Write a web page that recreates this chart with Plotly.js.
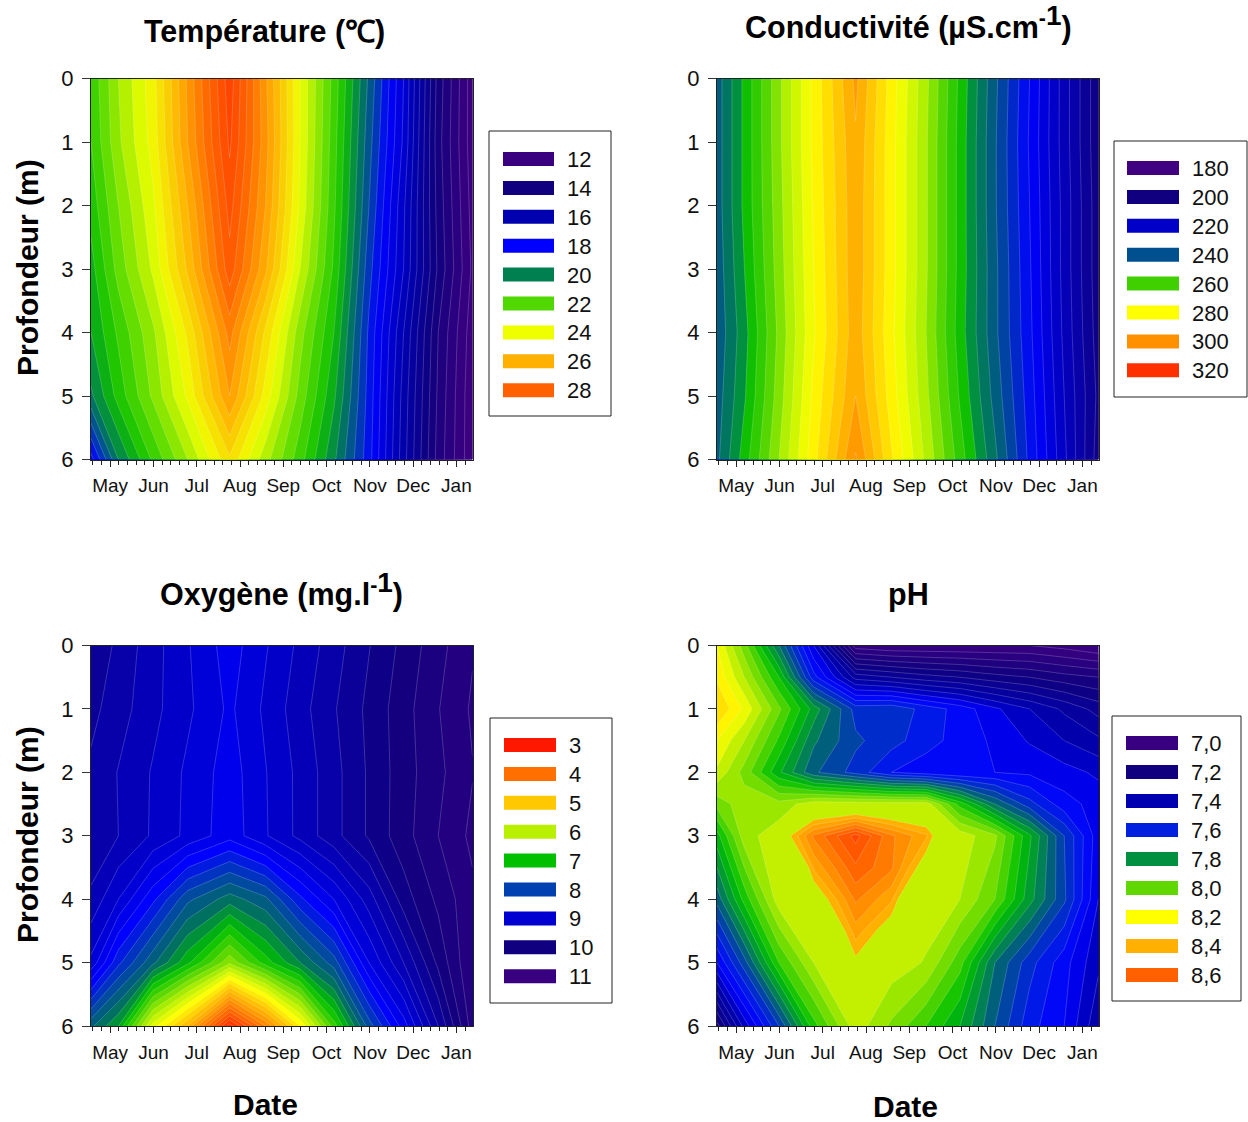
<!DOCTYPE html>
<html><head><meta charset="utf-8">
<script src="https://cdn.plot.ly/plotly-3.0.1.min.js"></script>
<style>html,body{margin:0;padding:0;background:#fff}#c{width:1248px;height:1122px}</style>
</head><body><div id="c"></div>
<script>
const monthLabels=['May','Jun','Jul','Aug','Sep','Oct','Nov','Dec','Jan'];
const monthPos=[1,2,3,4,5,6,7,8,9];
const dates=[0.557,1.19,1.99,2.79,3.76,4.59,5.39,6.17,6.98,7.78,8.58,9.372];
const depths=[0,1,2,3,4,5,6];
const phDepths=[0,0.5,1,1.5,2,2.5,3,4,5,6];
const coreDepths=[2.5,3,3.5,4,4.5,5];

const temperature=[
[21.6,23,24.3,26.6,29.3,26.6,24,21.8,19.4,17,13.8,11.7],
[21.5,22.9,24.2,26.5,29.1,26.7,24,21.7,19.2,16.9,13.7,11.7],
[21.2,22.5,23.9,26,28.7,26.5,23.9,21.6,19,16.6,13.8,11.8],
[20.8,22.2,23.6,25.6,28.3,26.1,23.5,21.4,18.7,16.5,13.9,11.9],
[20.5,21.6,22.9,24.6,27.2,24.9,22.7,21,18.4,16,13.5,11.7],
[19.9,21.2,22.6,24.1,26.5,24.3,22.3,20.6,18.3,15.8,13.4,11.6],
[17.8,20,21.6,23,24.9,23.2,21.7,20.1,18.2,15.7,13.3,11.6]];
const conductivity=[
[242,253,267,281,297,282,269,255,241,228,214,201],
[242,253,267,281,295.5,281.5,268.5,254.5,240.5,227.5,214,201],
[242,253,266.5,280.5,295,281.5,268.5,254.5,240.5,228,214.5,201.5],
[241.5,252,266,280,295,281.5,268.5,254.5,241,228.5,214.5,201.5],
[241,250.5,265,279.5,294.5,281,268,254,241,229,215,202],
[242,251.5,266,281,296,282,269,255.5,242.5,230,216,203],
[243,254,268,282.5,300.5,284.5,271,258,245,231,217,202]];
const oxygen=[
[9.77,9.55,9.28,9.02,8.7,8.98,9.25,9.51,9.79,10.06,10.33,10.58],
[9.66,9.49,9.26,9.04,8.76,9.04,9.32,9.58,9.85,10.12,10.39,10.63],
[9.56,9.39,9.18,8.96,8.7,8.99,9.26,9.53,9.83,10.11,10.35,10.59],
[9.58,9.4,9.17,8.95,8.68,8.98,9.26,9.53,9.83,10.12,10.4,10.65],
[9.35,9,8.45,7.85,7.5,7.75,8.35,8.8,9.3,9.9,10.25,10.55],
[8.95,8.25,7.65,7.05,6.25,6.9,7.4,7.9,8.8,9.4,10.05,10.6],
[7.65,7.2,5.7,4.8,3.1,4.2,5.4,6.7,7.9,8.7,9.6,10.5]];
const ph=[
[8.2,8.02,7.75,7.45,7.02,7,7,7,7,7,6.98,6.95],
[8.24,8.1,7.9,7.57,7.33,7.3,7.27,7.25,7.22,7.2,7.17,7.15],
[8.3,8.19,8.01,7.83,7.63,7.64,7.58,7.53,7.46,7.4,7.34,7.28],
[8.2,8.1,7.94,7.76,7.66,7.62,7.57,7.53,7.49,7.445,7.4,7.36],
[8.14,8.03,7.86,7.71,7.63,7.55,7.52,7.5,7.5,7.49,7.47,7.44],
[8.02,8.08,8.07,8.13,8.13,8.13,8.13,7.93,7.75,7.62,7.52,7.48],
[7.88,8.08,8.13,8.13,8.13,8.13,8.13,8.13,8.06,7.86,7.65,7.47],
[7.72,7.92,8.13,8.13,8.13,8.13,8.13,8.1,8,7.82,7.66,7.45],
[7.5,7.68,7.95,8.1,8.13,8.13,8.095,7.97,7.75,7.62,7.52,7.41],
[7.18,7.42,7.65,7.93,8.13,8.04,7.95,7.85,7.7,7.57,7.5,7.36]];
const phCore=[
[8,8,8.2,8.2,8.2,8.2,8.2,8.2,8,8,8,8],
[8,8,8.28,8.52,8.68,8.52,8.42,8.12,8,8,8,8],
[8,8,8,8.42,8.6,8.52,8.3,8,8,8,8,8],
[8,8,8,8.28,8.52,8.42,8.09,8,8,8,8,8],
[8,8,8,8.12,8.44,8.3,8,8,8,8,8,8],
[8,8,8,8.05,8.34,8.1,8,8,8,8,8,8]];

const tempStops=[[9.75,'#3a0080'],[12,'#3a0080'],[14,'#10007f'],[16,'#0000b0'],[18,'#0000ff'],[19,'#0048a0'],[20,'#008050'],[21,'#10c000'],[22,'#50d800'],[24,'#f0ff00'],[26,'#ffb000'],[28,'#ff6000'],[30.25,'#ff3000']];
const condStops=[[178,'#400080'],[200,'#10007f'],[220,'#0000d0'],[228,'#0000ff'],[240,'#005090'],[250,'#009040'],[254,'#10c000'],[260,'#40d000'],[270,'#b0f000'],[280,'#ffff00'],[300,'#ff9000'],[322,'#ff3000']];
const oxyStops=[[2.9,'#ff1800'],[4,'#ff7000'],[5,'#ffc800'],[5.5,'#ffff00'],[6,'#b8f000'],[7,'#00c000'],[7.5,'#007060'],[8,'#0040b0'],[8.5,'#0000ff'],[9,'#0000d0'],[10,'#10007f'],[11.1,'#380080']];
const phStops=[[6.875,'#380080'],[7,'#380080'],[7.2,'#10007f'],[7.4,'#0000b0'],[7.5,'#0000ff'],[7.6,'#0020e0'],[7.7,'#005090'],[7.8,'#009040'],[7.9,'#00c000'],[8,'#60d800'],[8.2,'#ffff00'],[8.4,'#ffb000'],[8.6,'#ff6000'],[8.825,'#ff2000']];
const coreStops=[[8.335,'rgba(255,176,0,0)'],[8.36,'rgba(255,176,0,0)'],[8.36,'#ffb400'],[8.4,'#ffb000'],[8.6,'#ff6000'],[8.785,'#ff2a00']];

const tempLegendVals=['12','14','16','18','20','22','24','26','28'];
const tempLegendCols=['#3a0080','#10007f','#0000b0','#0000ff','#008050','#50d800','#f0ff00','#ffb000','#ff6000'];
const condLegendVals=['180','200','220','240','260','280','300','320'];
const condLegendCols=['#400080','#10007f','#0000c8','#005090','#40d000','#ffff00','#ff9000','#ff3000'];
const oxyLegendVals=['3','4','5','6','7','8','9','10','11'];
const oxyLegendCols=['#ff1800','#ff7000','#ffc800','#b8f000','#00c000','#0040b0','#0000d0','#10007f','#380080'];
const phLegendVals=['7,0','7,2','7,4','7,6','7,8','8,0','8,2','8,4','8,6'];
const phLegendCols=['#380080','#10007f','#0000b0','#0020e0','#009040','#60d800','#ffff00','#ffb000','#ff6000'];

const W=1248,H=1122,FF='"Liberation Sans",Arial,sans-serif';
const fx=p=>p/W, fy=p=>1-p/H;
function scale(st){const a=st[0][0],b=st[st.length-1][0];return st.map(s=>[(s[0]-a)/(b-a),s[1]]);}
const SUP1="<sup>-<span style='font-size:28px'>1</span></sup>";

const panels=[
{z:temperature,y:depths,stops:tempStops,size:0.5,start:10,end:30,box:[91,472.5,78.5,459.5],
 title:'Température (℃)',tx:264,ty:31.5,
 leg:{v:tempLegendVals,c:tempLegendCols,box:[489,611,131,416],sw:[503,554],y0:159,dy:28.9,lx:566}},
{z:conductivity,y:depths,stops:condStops,size:4,start:180,end:320,box:[717,1098.5,78.5,459.5],
 title:'Conductivité (µS.cm'+SUP1+')',tx:908,ty:22,
 leg:{v:condLegendVals,c:condLegendCols,box:[1114,1247,141,397],sw:[1127,1179],y0:168,dy:28.9,lx:1191}},
{z:oxygen,y:depths,stops:oxyStops,size:0.2,start:3,end:11,box:[91,472.5,645.5,1026],
 title:'Oxygène (mg.l'+SUP1+')',tx:281,ty:589,
 leg:{v:oxyLegendVals,c:oxyLegendCols,box:[490,612,718,1003],sw:[504,556],y0:745,dy:28.9,lx:568}},
{z:ph,y:phDepths,stops:phStops,size:0.05,start:6.9,end:8.8,box:[717,1098.5,645.5,1026],
 title:'pH',tx:908,ty:594,
 leg:{v:phLegendVals,c:phLegendCols,box:[1112,1241,716,1001],sw:[1126,1178],y0:743,dy:29,lx:1190}}];

const data=[],shapes=[],annotations=[],layout={width:W,height:H,margin:{l:0,r:0,t:0,b:0},autosize:false,
 paper_bgcolor:'#fff',plot_bgcolor:'#fff',showlegend:false,font:{family:FF,color:'#000'}};
const LINE={color:'rgba(255,255,255,0.33)',width:0.6,smoothing:0};

panels.forEach((p,i)=>{
  const n=i+1, xa='xaxis'+(i?n:''), ya='yaxis'+(i?n:''), xr='x'+(i?n:''), yr='y'+(i?n:'');
  data.push({type:'contour',x:dates,y:p.y,z:p.z,xaxis:xr,yaxis:yr,autocontour:false,
    colorscale:scale(p.stops),showscale:false,hoverinfo:'skip',line:LINE,
    contours:{coloring:'fill',showlines:true,start:p.start,end:p.end,size:p.size}});
  layout[xa]={domain:[fx(p.box[0]),fx(p.box[1])],range:[dates[0],dates[dates.length-1]],anchor:yr,
    tickmode:'array',tickvals:monthPos,ticktext:monthLabels,ticks:'outside',ticklen:6,tickwidth:1,tickcolor:'#222',
    minor:{tickmode:'linear',tick0:1,dtick:0.2,ticks:'outside',ticklen:4,tickwidth:1,tickcolor:'#222',showgrid:false},
    tickfont:{size:19,family:FF,color:'#111'},ticklabelstandoff:3,showgrid:false,zeroline:false,
    showline:true,linecolor:'#222',linewidth:1,mirror:true};
  layout[ya]={domain:[fy(p.box[3]),fy(p.box[2])],range:[6,0],anchor:xr,tickmode:'array',tickvals:depths,ticktext:depths.map(String),
    ticks:'outside',ticklen:8,tickwidth:1,tickcolor:'#333',tickfont:{size:22,family:FF,color:'#111'},ticklabelstandoff:4,
    showgrid:false,zeroline:false,showline:true,linecolor:'#222',linewidth:1,mirror:true};
  annotations.push({xref:'paper',yref:'paper',x:fx(p.tx),y:fy(p.ty),text:'<b>'+p.title+'</b>',showarrow:false,
    xanchor:'center',yanchor:'middle',font:{size:30.5,family:FF,color:'#000'}});
  const L=p.leg;
  shapes.push({type:'rect',xref:'paper',yref:'paper',x0:fx(L.box[0]),x1:fx(L.box[1]),y0:fy(L.box[2]),y1:fy(L.box[3]),
    line:{color:'#222',width:1},fillcolor:'#fff'});
  L.v.forEach((v,k)=>{
    const yc=L.y0+k*L.dy;
    shapes.push({type:'rect',xref:'paper',yref:'paper',x0:fx(L.sw[0]),x1:fx(L.sw[1]),y0:fy(yc-7),y1:fy(yc+7),
      line:{width:0},fillcolor:L.c[k]});
    annotations.push({xref:'paper',yref:'paper',x:fx(L.lx),y:fy(yc+0.5),text:v,showarrow:false,xanchor:'left',yanchor:'middle',
      xshift:-1,font:{size:22,family:FF,color:'#111'}});
  });
});

data.push({type:'contour',x:dates,y:coreDepths,z:phCore,xaxis:'x4',yaxis:'y4',autocontour:false,
  colorscale:scale(coreStops),showscale:false,hoverinfo:'skip',line:LINE,
  contours:{coloring:'fill',showlines:true,start:8.36,end:8.76,size:0.05}});

[['Profondeur (m)',27,268,-90],['Profondeur (m)',27,835,-90],['Date',265,1104,0],['Date',905,1106,0]].forEach(r=>{
  annotations.push({xref:'paper',yref:'paper',x:fx(r[1]),y:fy(r[2]),text:'<b>'+r[0]+'</b>',showarrow:false,textangle:r[3],
    xanchor:'center',yanchor:'middle',font:{size:30,family:FF,color:'#000'}});
});
layout.shapes=shapes;layout.annotations=annotations;
Plotly.newPlot('c',data,layout,{staticPlot:true,displayModeBar:false});
</script></body></html>
